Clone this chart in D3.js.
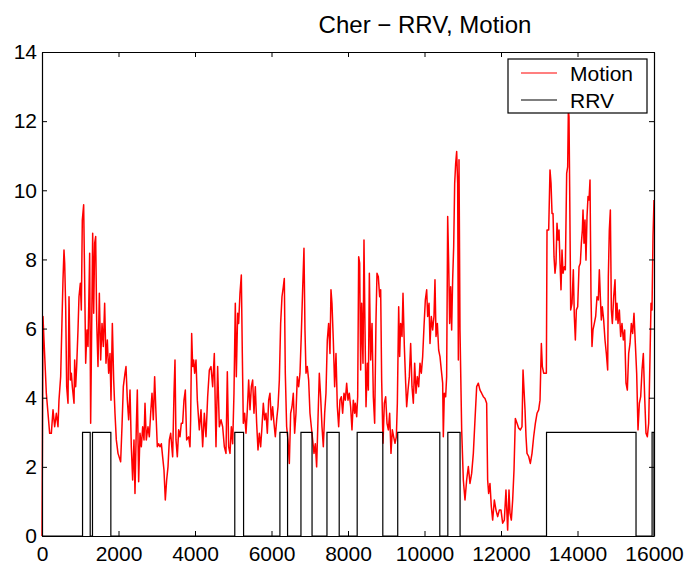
<!DOCTYPE html>
<html>
<head>
<meta charset="utf-8">
<script src="https://cdn.jsdelivr.net/npm/d3@7"></script>
<style>
  body { margin: 0; background: #fff; }
  text { font-family: "Liberation Sans", Arial, Helvetica, sans-serif; }
</style>
</head>
<body>
<script>

// data

const titleText = "Cher \u2212 RRV, Motion";
const seriesNames = ["Motion", "RRV"];
const xTicks = [0, 2000, 4000, 6000, 8000, 10000, 12000, 14000, 16000];
const yTicks = [0, 2, 4, 6, 8, 10, 12, 14];

// RRV is 3 inside these sample ranges, 0 elsewhere
const rrvLevel = 3;
const rrvOn = [
    [1060, 1260], [1320, 1800], [5040, 5270], [6220, 6420], [6770, 7060],
    [7450, 7770], [8240, 8910], [9300, 10400], [10610, 10930], [13190, 15530],
    [15950, 16000]
];

// Motion: [sample, value]
const motion = [
    [0,0],[26,6.35],[52,5.67],[87,4.80],[113,4.13],[157,3.55],[200,2.97],[244,2.97],[288,3.65],[331,3.16],
    [375,3.55],[418,3.16],[444,3.93],[488,4.61],[523,6.25],[549,7.41],[575,8.27],[593,7.89],[619,6.63],[645,4.32],
    [680,3.84],[706,6.92],[741,4.51],[767,4.71],[793,4.32],[837,3.84],[854,5.09],[880,4.32],[906,4.90],[941,5.96],
    [967,6.92],[1002,7.31],[1028,6.54],[1054,9.14],[1089,9.58],[1115,7.41],[1142,5.00],[1176,5.96],[1203,5.48],[1246,8.18],
    [1272,3.26],[1298,5.96],[1325,8.76],[1351,6.44],[1377,8.47],[1403,8.66],[1429,6.25],[1464,4.90],[1499,7.02],[1534,5.09],
    [1569,6.15],[1603,5.48],[1638,6.73],[1673,5.00],[1708,5.67],[1743,4.71],[1778,5.28],[1804,3.93],[1839,6.15],[1874,4.51],
    [1908,3.55],[1943,2.78],[1987,2.39],[2056,2.15],[2091,3.16],[2126,4.32],[2170,4.71],[2196,4.90],[2231,3.93],[2266,3.36],
    [2301,4.22],[2335,2.58],[2370,1.62],[2405,2.78],[2431,1.23],[2466,3.16],[2492,4.22],[2527,1.57],[2562,2.97],[2597,2.58],
    [2632,3.16],[2667,2.78],[2693,3.84],[2727,2.78],[2771,3.16],[2806,2.87],[2841,3.55],[2876,4.13],[2910,3.36],[2945,4.61],
    [2980,3.55],[3015,2.58],[3050,2.67],[3085,2.58],[3120,2.67],[3154,2.29],[3189,1.91],[3224,1.04],[3259,1.62],[3294,2.00],
    [3329,2.78],[3364,2.97],[3416,2.29],[3451,4.13],[3477,5.09],[3503,2.78],[3538,2.29],[3573,3.07],[3608,2.87],[3642,3.26],
    [3677,3.26],[3712,3.93],[3747,4.22],[3782,2.78],[3834,2.87],[3869,2.58],[3886,3.36],[3913,5.86],[3939,4.90],[3965,5.09],
    [3991,4.71],[4026,5.09],[4061,3.93],[4113,3.07],[4157,3.65],[4200,2.58],[4244,3.55],[4287,2.87],[4331,4.03],[4375,4.80],
    [4418,4.90],[4462,4.32],[4505,5.28],[4549,2.58],[4592,4.90],[4636,3.16],[4680,3.36],[4723,3.16],[4767,2.58],[4810,2.39],
    [4845,4.75],[4880,2.58],[4915,2.39],[4950,3.16],[4985,2.67],[5019,4.13],[5054,6.73],[5080,4.61],[5115,6.44],[5141,6.15],
    [5176,7.02],[5211,7.55],[5237,5.28],[5263,3.26],[5298,3.55],[5333,2.97],[5368,3.65],[5403,4.51],[5438,3.65],[5473,4.32],
    [5507,4.51],[5542,3.55],[5577,4.32],[5612,3.26],[5647,2.49],[5682,2.97],[5717,2.58],[5751,3.16],[5786,3.84],[5821,3.36],
    [5856,3.55],[5891,2.97],[5926,3.93],[5960,4.13],[5995,3.36],[6030,3.74],[6065,3.26],[6100,2.87],[6135,3.36],[6170,3.74],
    [6205,4.51],[6239,6.15],[6274,6.92],[6309,7.21],[6335,7.45],[6361,4.71],[6396,3.16],[6431,2.78],[6466,2.10],[6501,3.55],
    [6536,3.74],[6570,4.13],[6605,2.97],[6640,3.55],[6675,4.61],[6710,4.32],[6745,4.71],[6780,5.86],[6814,7.12],[6849,8.32],
    [6875,5.96],[6902,4.71],[6936,4.90],[6971,4.51],[7006,3.55],[7041,3.16],[7076,2.78],[7111,2.39],[7146,2.67],[7180,2.00],
    [7215,3.36],[7250,4.71],[7285,4.03],[7320,3.16],[7355,2.58],[7390,3.55],[7424,4.13],[7459,5.67],[7494,6.15],[7529,5.28],
    [7555,7.12],[7581,6.73],[7616,5.67],[7651,4.32],[7686,5.28],[7721,3.74],[7756,3.16],[7790,3.93],[7825,4.03],[7860,3.55],
    [7895,4.13],[7930,3.93],[7965,4.42],[8000,3.93],[8034,4.13],[8069,3.74],[8104,3.07],[8139,3.93],[8174,3.55],[8192,3.84],
    [8227,3.45],[8253,4.03],[8279,8.08],[8305,7.89],[8331,4.80],[8357,6.73],[8392,5.00],[8418,8.56],[8445,5.96],[8471,3.74],
    [8506,5.00],[8532,4.22],[8558,7.60],[8593,5.09],[8628,6.15],[8662,4.03],[8697,3.26],[8732,6.25],[8758,7.60],[8793,7.50],
    [8828,6.92],[8854,7.12],[8880,4.51],[8915,2.68],[8950,3.84],[8985,4.03],[9020,3.26],[9055,3.07],[9089,3.55],[9124,2.39],
    [9159,3.07],[9194,2.87],[9229,2.68],[9264,2.87],[9290,3.84],[9325,6.63],[9351,5.19],[9377,6.15],[9412,5.77],[9438,7.02],
    [9473,5.48],[9508,4.42],[9534,3.74],[9569,4.22],[9603,4.61],[9638,5.57],[9673,4.32],[9708,3.84],[9743,5.00],[9778,4.13],
    [9813,4.61],[9848,4.32],[9882,5.00],[9917,4.71],[9952,5.19],[9987,6.06],[10022,6.83],[10057,7.12],[10083,6.35],[10118,6.73],
    [10144,5.57],[10179,6.35],[10214,5.96],[10248,6.35],[10274,7.41],[10301,5.77],[10336,6.15],[10370,5.38],[10405,5.19],[10440,4.80],
    [10475,4.42],[10492,2.87],[10518,4.13],[10553,4.03],[10579,4.61],[10606,9.24],[10632,7.89],[10658,6.15],[10684,7.21],[10710,5.96],
    [10736,7.41],[10763,8.37],[10789,10.20],[10815,10.78],[10841,11.12],[10867,10.20],[10885,5.09],[10902,10.88],[10928,5.96],[10972,3.07],
    [11015,1.62],[11059,1.04],[11102,1.62],[11146,2.01],[11189,1.52],[11233,1.81],[11277,2.39],[11320,3.36],[11364,4.32],[11407,4.42],
    [11451,4.22],[11494,4.13],[11538,4.03],[11582,3.98],[11625,3.84],[11651,1.62],[11677,1.23],[11712,1.52],[11747,0.85],[11782,0.46],
    [11826,1.04],[11869,0.75],[11913,0.56],[11956,0.75],[12000,0.75],[12043,0.37],[12087,0.46],[12130,1.33],[12174,0.17],[12209,1.33],
    [12235,0.66],[12270,0.46],[12305,1.04],[12340,1.91],[12375,3.40],[12419,3.26],[12462,3.12],[12506,3.07],[12549,3.16],[12576,4.80],
    [12602,4.22],[12628,3.65],[12654,2.87],[12680,2.39],[12724,2.30],[12767,2.10],[12811,2.39],[12854,2.87],[12898,3.26],[12942,3.55],
    [12985,3.65],[13020,3.93],[13055,5.57],[13081,4.90],[13116,4.71],[13159,4.71],[13186,4.71],[13203,8.85],[13247,8.85],[13281,10.59],
    [13308,10.20],[13334,9.33],[13360,9.33],[13386,8.08],[13412,7.60],[13438,7.89],[13464,9.05],[13491,8.56],[13517,8.85],[13543,7.89],
    [13569,7.12],[13595,8.27],[13621,7.60],[13656,7.79],[13682,7.70],[13717,10.49],[13743,10.68],[13761,12.32],[13778,12.13],[13795,10.11],
    [13822,6.54],[13857,6.73],[13891,7.70],[13917,6.35],[13944,5.67],[13970,6.54],[14005,6.63],[14040,7.79],[14074,7.89],[14101,8.47],
    [14127,8.85],[14144,9.43],[14170,8.47],[14196,9.14],[14222,7.98],[14249,9.24],[14275,9.82],[14301,9.72],[14327,10.30],[14353,6.92],
    [14379,5.48],[14405,5.96],[14440,6.15],[14475,6.35],[14510,6.92],[14545,6.83],[14571,7.70],[14597,6.92],[14623,6.25],[14649,6.63],
    [14684,6.25],[14719,5.67],[14754,5.28],[14789,4.80],[14806,7.50],[14832,8.85],[14859,9.43],[14885,6.54],[14911,6.15],[14946,6.92],
    [14981,7.41],[15007,6.25],[15033,6.73],[15059,6.15],[15094,6.54],[15129,5.77],[15163,6.15],[15198,5.67],[15233,5.96],[15268,4.42],
    [15303,4.22],[15338,5.28],[15373,5.57],[15408,6.15],[15442,5.86],[15477,6.44],[15512,5.57],[15547,4.71],[15582,3.07],[15617,3.84],
    [15652,4.03],[15687,4.80],[15721,5.28],[15756,4.03],[15791,2.97],[15826,2.87],[15861,3.26],[15896,5.19],[15922,6.73],[15948,6.54],
    [15974,8.66],[16000,9.72]
];

// dimensions

const dms = {
    width: 691,
    height: 571,
    margins: { top: 52, right: 37, bottom: 35, left: 42 }
};
dms.innerWidth = dms.width - dms.margins.left - dms.margins.right;
dms.innerHeight = dms.height - dms.margins.top - dms.margins.bottom;

const svg = d3.select("body")
    .append("svg")
        .attr("width", dms.width)
        .attr("height", dms.height)
        .style("background", "#fff");

const g = svg.append("g")
    .attr("transform", `translate(${dms.margins.left},${dms.margins.top})`);

// scales

const xScale = d3.scaleLinear()
    .domain([0, 16000])
    .range([0, dms.innerWidth]);

const yScale = d3.scaleLinear()
    .domain([0, 14])
    .range([dms.innerHeight, 0]);

// lines

const lineGen = d3.line()
    .x(d => xScale(d[0]))
    .y(d => yScale(d[1]));

// turn the RRV ranges into a step series
const rrvPoints = [[0, 0]];
rrvOn.forEach(([a, b]) => {
    rrvPoints.push([a, 0], [a, rrvLevel], [b, rrvLevel], [b, 0]);
});
rrvPoints.push([16000, 0]);

g.append("path")
    .attr("d", lineGen(motion))
    .attr("fill", "none")
    .attr("stroke", "#ff0000")
    .attr("stroke-width", 1.5)
    .attr("stroke-linejoin", "round");

g.append("path")
    .attr("d", lineGen(rrvPoints))
    .attr("fill", "none")
    .attr("stroke", "#000")
    .attr("stroke-width", 1.2);

// axes, ticks point inward on all four sides

const styleAxis = sel => {
    sel.selectAll("path").attr("stroke", "#000").attr("stroke-width", 1.2);
    sel.selectAll("line").attr("stroke", "#000");
    sel.selectAll("text")
        .attr("fill", "#000")
        .style("font-size", "21px")
        .style("font-family", "'Liberation Sans', Arial, sans-serif");
};

g.append("g")
    .attr("transform", `translate(0,${dms.innerHeight})`)
    .call(d3.axisBottom(xScale).tickValues(xTicks).tickFormat(d3.format("d"))
        .tickSizeInner(-5).tickSizeOuter(0).tickPadding(10))
    .call(styleAxis);

g.append("g")
    .call(d3.axisTop(xScale).tickValues(xTicks).tickFormat("")
        .tickSizeInner(-5).tickSizeOuter(0))
    .call(styleAxis);

g.append("g")
    .call(d3.axisLeft(yScale).tickValues(yTicks).tickFormat(d3.format("d"))
        .tickSizeInner(-5).tickSizeOuter(0).tickPadding(5))
    .call(styleAxis);

g.append("g")
    .attr("transform", `translate(${dms.innerWidth},0)`)
    .call(d3.axisRight(yScale).tickValues(yTicks).tickFormat("")
        .tickSizeInner(-5).tickSizeOuter(0))
    .call(styleAxis);

// title

svg.append("text")
    .attr("x", 425)
    .attr("y", 33)
    .attr("text-anchor", "middle")
    .style("font-size", "24px")
    .text(titleText);

// legend

const legend = svg.append("g")
    .attr("transform", "translate(508,59)");

legend.append("rect")
    .attr("width", 139)
    .attr("height", 54)
    .attr("fill", "#fff")
    .attr("stroke", "#000")
    .attr("stroke-width", 1.2);

const legendColors = ["#ff0000", "#000"];
seriesNames.forEach((name, i) => {
    const y = 14 + i * 27;
    legend.append("line")
        .attr("x1", 13).attr("x2", 49)
        .attr("y1", y).attr("y2", y)
        .attr("stroke", legendColors[i])
        .attr("stroke-width", 1.2);
    legend.append("text")
        .attr("x", 62)
        .attr("y", y + 8)
        .style("font-size", "21px")
        .text(name);
});

</script>
</body>
</html>
